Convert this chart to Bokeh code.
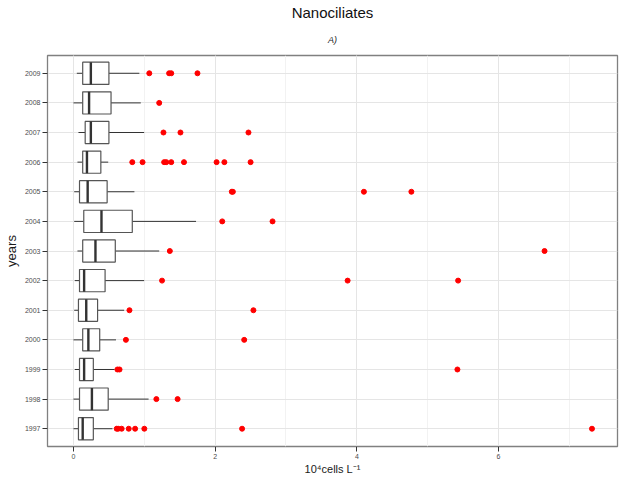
from bokeh.plotting import figure
from bokeh.models import (ColumnDataSource, FactorRange, Range1d, Title,
                          SingleIntervalTicker)
from bokeh.transform import dodge
from bokeh.embed import file_html
from bokeh.resources import INLINE

years = ["1997", "1998", "1999", "2000", "2001", "2002", "2003",
         "2004", "2005", "2006", "2007", "2008", "2009"]
whisker_low = [0.0, 0.0, 0.018, 0.0, 0.01, 0.018, 0.056, 0.01, 0.01, 0.056, 0.07, 0.0, 0.047]
q1 = [0.07, 0.085, 0.085, 0.13, 0.07, 0.085, 0.13, 0.145, 0.085, 0.13, 0.165, 0.13, 0.13]
median = [0.13, 0.26, 0.15, 0.21, 0.18, 0.15, 0.31, 0.395, 0.20, 0.19, 0.245, 0.22, 0.245]
q3 = [0.28, 0.49, 0.28, 0.37, 0.34, 0.446, 0.59, 0.83, 0.475, 0.386, 0.50, 0.53, 0.50]
whisker_high = [0.55, 1.06, 0.58, 0.60, 0.715, 0.997, 1.21, 1.73, 0.86, 0.49, 0.997, 0.95, 0.93]

outlier_year = (["1997"] * 8 + ["1998"] * 2 + ["1999"] * 3 + ["2000"] * 2 +
                ["2001"] * 2 + ["2002"] * 3 + ["2003"] * 2 + ["2004"] * 2 +
                ["2005"] * 4 + ["2006"] * 9 + ["2007"] * 3 + ["2008"] * 1 +
                ["2009"] * 4)
outlier_value = [0.61, 0.63, 0.68, 0.78, 0.87, 1.00, 2.38, 7.32,
                 1.17, 1.47,
                 0.62, 0.65, 5.42,
                 0.74, 2.41,
                 0.79, 2.54,
                 1.25, 3.87, 5.43,
                 1.36, 6.65,
                 2.10, 2.81,
                 2.235, 2.25, 4.10, 4.77,
                 0.83, 0.975, 1.28, 1.31, 1.38, 1.56, 2.02, 2.13, 2.50,
                 1.27, 1.51, 2.47,
                 1.21,
                 1.07, 1.35, 1.38, 1.75]

x_ticks_interval = 2

FONT = "Liberation Sans"

box_src = ColumnDataSource(dict(year=years, lo=whisker_low, q1=q1, med=median,
                                q3=q3, hi=whisker_high))
out_src = ColumnDataSource(dict(year=outlier_year, val=outlier_value))

p = figure(frame_width=570, frame_height=391, output_backend="svg",
           toolbar_location=None,
           y_range=FactorRange(factors=years, range_padding=0.2 / 13),
           x_range=Range1d(-0.367, 7.68),
           min_border_left=39, min_border_right=2, min_border_top=48,
           min_border_bottom=30)
p.title.visible = False

p.add_layout(Title(text="A)", align="center", text_font=FONT,
                   text_font_style="italic", text_font_size="9px",
                   text_color="#222222", standoff=22), "above")
p.add_layout(Title(text="Nanociliates", align="center", text_font=FONT,
                   text_font_style="normal", text_font_size="15px",
                   text_color="#111111", standoff=2), "above")

# whiskers
p.segment(x0="lo", y0="year", x1="q1", y1="year", source=box_src,
          line_color="#333333", line_width=1)
p.segment(x0="q3", y0="year", x1="hi", y1="year", source=box_src,
          line_color="#333333", line_width=1)
# boxes
p.hbar(y="year", left="q1", right="q3", height=0.75, source=box_src,
       fill_color="white", line_color="#555555", line_width=1.2)
# median
p.segment(x0="med", y0=dodge("year", -0.375, range=p.y_range),
          x1="med", y1=dodge("year", 0.375, range=p.y_range),
          source=box_src, line_color="#333333", line_width=2.4)
# outliers
p.scatter(x="val", y="year", source=out_src, size=5, fill_color="#FF0000",
          line_color="#FF0000")

p.xaxis.ticker = SingleIntervalTicker(interval=x_ticks_interval, num_minor_ticks=2)
p.xaxis.axis_label = "10\u2074cells L\u207b\u00b9"
p.yaxis.axis_label = "years"

for ax in (p.xaxis, p.yaxis):
    ax.axis_line_color = None
    ax.major_tick_out = 5
    ax.major_tick_in = 0
    ax.minor_tick_out = 0
    ax.minor_tick_in = 0
    ax.major_tick_line_color = "#333333"
    ax.major_label_text_font = FONT
    ax.major_label_text_font_size = "7px"
    ax.major_label_text_color = "#4d4d4d"
    ax.axis_label_text_font = FONT
    ax.axis_label_text_font_style = "normal"
    ax.axis_label_text_color = "#1a1a1a"
    ax.major_label_standoff = 2

p.xaxis.axis_label_text_font_size = "11px"
p.xaxis.axis_label_standoff = 1
p.yaxis.axis_label_text_font_size = "13px"
p.yaxis.axis_label_standoff = 3

p.xgrid.grid_line_color = "#e5e5e5"
p.xgrid.minor_grid_line_color = "#f2f2f2"
p.ygrid.grid_line_color = "#e5e5e5"

p.outline_line_color = "#808080"
p.outline_line_width = 1.3
p.background_fill_color = "white"
p.border_fill_color = "white"

open("out.html", "w").write(file_html(p, INLINE))
